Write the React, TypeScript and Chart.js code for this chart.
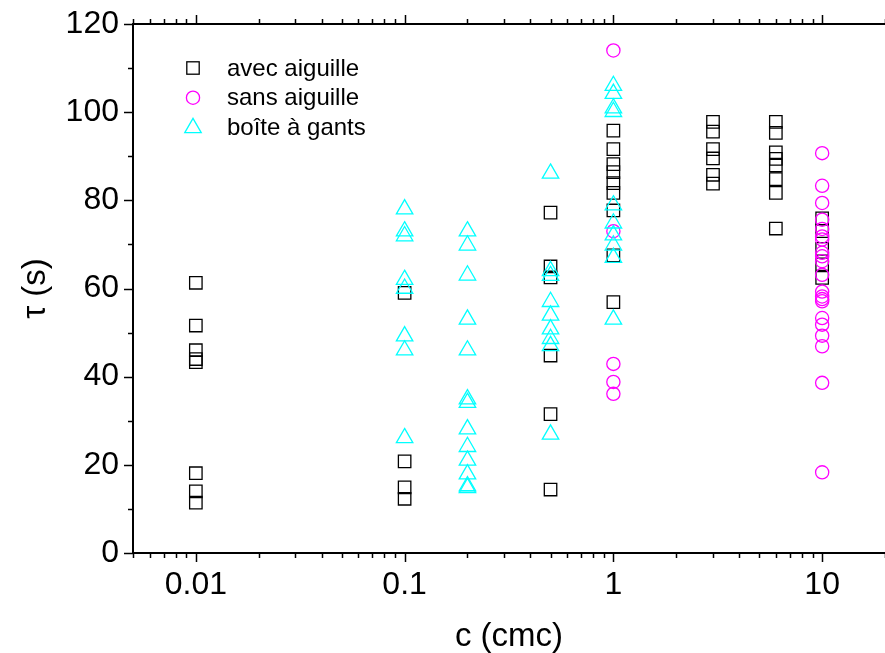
import React, { useEffect, useRef } from 'react';
import { Chart, registerables } from 'chart.js';

Chart.register(...registerables);

const FONT = "'Liberation Sans', Arial, Helvetica, sans-serif";

// Series names (legend)
const seriesNames = ['avec aiguille', 'sans aiguille', 'boîte à gants'];
const seriesColors = ['#000000', '#ff00ff', '#00ffff'];

// avec aiguille (squares): concentrations and tau values at each
const avecConc = [0.01, 0.1, 0.5, 1, 3, 6, 10];
const avecTau = [
  [61.3, 51.6, 46.0, 44.0, 43.3, 18.1, 14.0, 11.4],
  [59.0, 20.8, 14.9, 12.3],
  [77.2, 65.0, 62.5, 44.8, 31.5, 14.4],
  [95.8, 91.6, 88.2, 86.4, 83.9, 81.7, 77.7, 67.5, 56.9],
  [97.8, 95.6, 91.6, 89.5, 85.8, 83.8],
  [97.8, 95.3, 90.9, 89.4, 87.9, 84.8, 81.7, 73.6],
  [75.9, 73.0, 69.0, 65.5, 62.4],
];

// sans aiguille (circles)
const sansConc = [1, 10];
const sansTau = [
  [114.0, 73.0, 42.9, 38.8, 36.1],
  [90.7, 83.3, 79.4, 75.6, 73.5, 71.8, 71.1, 68.1, 67.3, 66.2, 63.1, 59.3, 58.2, 57.6, 57.1, 53.3, 51.8, 49.3, 46.9, 38.6, 18.3],
];

// boîte à gants (triangles)
const boiteConc = [0.1, 0.2, 0.5, 1];
const boiteTau = [
  [78.0, 73.0, 71.9, 62.0, 60.0, 49.2, 46.0, 26.1],
  [73.0, 69.8, 63.0, 53.0, 46.0, 34.9, 34.1, 28.1, 24.1, 21.0, 17.9, 15.2, 14.8],
  [86.1, 64.0, 62.9, 57.0, 53.9, 50.8, 48.6, 47.0, 26.9],
  [106.0, 104.2, 100.9, 100.1, 78.9, 74.8, 72.1, 69.8, 67.0, 53.0],
];

// Axis ticks
const xMin = 0.005;
const xMax = 20;
const xMajorTicks = [0.01, 0.1, 1, 10];
const xTickLabels = ['0.01', '0.1', '1', '10'];
const yMin = 0;
const yMax = 120;
const yMajorStep = 20;
const yMinorStep = 10;

const toPoints = (conc: number[], tau: number[][]) =>
  conc.flatMap((c, i) => tau[i].map((t) => ({ x: c, y: t })));

const axisDecor = {
  id: 'axisDecor',
  afterDraw(chart: any) {
    const { ctx, chartArea } = chart;
    const xs = chart.scales.x;
    const ys = chart.scales.y;
    const { left, right, top, bottom } = chartArea;
    ctx.save();
    ctx.strokeStyle = '#000';
    // top axis line
    ctx.lineWidth = 2;
    ctx.beginPath();
    ctx.moveTo(left - 1, top);
    ctx.lineTo(right + 2, top);
    ctx.stroke();
    // x ticks (bottom & top)
    ctx.lineWidth = 1.5;
    for (let d = -3; d <= 1; d++) {
      for (let m = 1; m <= 9; m++) {
        const v = m * Math.pow(10, d);
        if (v < xMin * 0.999 || v > xMax * 1.001) continue;
        const px = Math.round(xs.getPixelForValue(v)) + 0.5;
        const len = m === 1 ? 9 : 5;
        ctx.beginPath();
        ctx.moveTo(px, bottom);
        ctx.lineTo(px, bottom + len);
        ctx.moveTo(px, top);
        ctx.lineTo(px, top - len);
        ctx.stroke();
      }
    }
    // y ticks (left)
    for (let v = yMin; v <= yMax; v += yMinorStep) {
      const py = Math.round(ys.getPixelForValue(v)) + 0.5;
      const len = v % yMajorStep === 0 ? 9 : 5;
      ctx.beginPath();
      ctx.moveTo(left, py);
      ctx.lineTo(left - len, py);
      ctx.stroke();
    }

    // legend
    const lx = 193;
    const rows = [68, 97.7, 125.5];
    const baselines = [75.5, 105, 135];
    ctx.lineWidth = 1.3;
    ctx.strokeStyle = seriesColors[0];
    ctx.strokeRect(lx - 6.2, rows[0] - 6.2, 12.4, 12.4);
    ctx.strokeStyle = seriesColors[1];
    ctx.beginPath();
    ctx.arc(lx, rows[1], 6.6, 0, Math.PI * 2);
    ctx.stroke();
    ctx.strokeStyle = seriesColors[2];
    const r = 9.5;
    const cy = rows[2] + 0.25 * r;
    ctx.beginPath();
    ctx.moveTo(lx, cy - r);
    ctx.lineTo(lx + 0.866 * r, cy + 0.5 * r);
    ctx.lineTo(lx - 0.866 * r, cy + 0.5 * r);
    ctx.closePath();
    ctx.stroke();

    ctx.fillStyle = '#000';
    ctx.font = `24px ${FONT}`;
    ctx.textBaseline = 'alphabetic';
    ctx.textAlign = 'left';
    seriesNames.forEach((n, i) => ctx.fillText(n, 227, baselines[i]));
    ctx.restore();
  },
};

export default function App() {
  const ref = useRef<HTMLCanvasElement | null>(null);

  useEffect(() => {
    if (!ref.current) return;
    const chart = new Chart(ref.current, {
      type: 'scatter',
      data: {
        datasets: [
          {
            label: seriesNames[0],
            data: toPoints(avecConc, avecTau),
            pointStyle: 'rect',
            pointRadius: 8.8,
            pointBorderWidth: 1.3,
            borderColor: seriesColors[0],
            backgroundColor: 'rgba(0,0,0,0)',
            order: 3,
          },
          {
            label: seriesNames[1],
            data: toPoints(sansConc, sansTau),
            pointStyle: 'circle',
            pointRadius: 6.6,
            pointBorderWidth: 1.3,
            borderColor: seriesColors[1],
            backgroundColor: 'rgba(0,0,0,0)',
            order: 2,
          },
          {
            label: seriesNames[2],
            data: toPoints(boiteConc, boiteTau),
            pointStyle: 'triangle',
            pointRadius: 9.5,
            pointBorderWidth: 1.3,
            borderColor: seriesColors[2],
            backgroundColor: 'rgba(0,0,0,0)',
            order: 1,
          },
        ],
      },
      options: {
        animation: false,
        responsive: false,
        maintainAspectRatio: false,
        layout: { autoPadding: false, padding: { top: 24, right: 0, left: 0, bottom: 0 } },
        plugins: {
          legend: { display: false },
          tooltip: { enabled: false },
        },
        elements: { point: { hoverRadius: 0 } },
        scales: {
          x: {
            type: 'logarithmic',
            position: 'bottom',
            min: xMin,
            max: xMax,
            afterFit: (s: any) => {
              s.height = 100;
              s.paddingLeft = 0;
              s.paddingRight = 0;
            },
            afterBuildTicks: (s: any) => {
              s.ticks = xMajorTicks.map((v) => ({ value: v }));
            },
            ticks: {
              autoSkip: false,
              maxRotation: 0,
              color: '#000',
              padding: 13,
              font: { family: FONT, size: 32 },
              callback: (v: any) => {
                const i = xMajorTicks.findIndex((t) => Math.abs(t - Number(v)) < 1e-9);
                return i >= 0 ? xTickLabels[i] : '';
              },
            },
            grid: { display: false, drawTicks: false },
            border: { display: true, color: '#000', width: 2 },
            title: {
              display: true,
              text: 'c (cmc)',
              color: '#000',
              font: { family: FONT, size: 33, lineHeight: 1 },
              padding: 0,
            },
          },
          y: {
            type: 'linear',
            min: yMin,
            max: yMax,
            afterFit: (s: any) => {
              s.width = 133;
              s.paddingTop = 0;
              s.paddingBottom = 0;
            },
            ticks: {
              stepSize: yMajorStep,
              color: '#000',
              padding: 14,
              font: { family: FONT, size: 32 },
            },
            grid: { display: false, drawTicks: false },
            border: { display: true, color: '#000', width: 2 },
            title: {
              display: true,
              text: 'τ (s)',
              color: '#000',
              font: { family: FONT, size: 33, lineHeight: 1 },
              padding: { top: 19, bottom: 0 },
            },
          },
        },
      },
      plugins: [axisDecor],
    } as any);
    return () => chart.destroy();
  }, []);

  return (
    <div style={{ position: 'fixed', left: 0, top: 0, width: 885, height: 653, background: '#fff' }}>
      <canvas ref={ref} width={885} height={653} style={{ width: 885, height: 653, display: 'block' }} />
    </div>
  );
}
